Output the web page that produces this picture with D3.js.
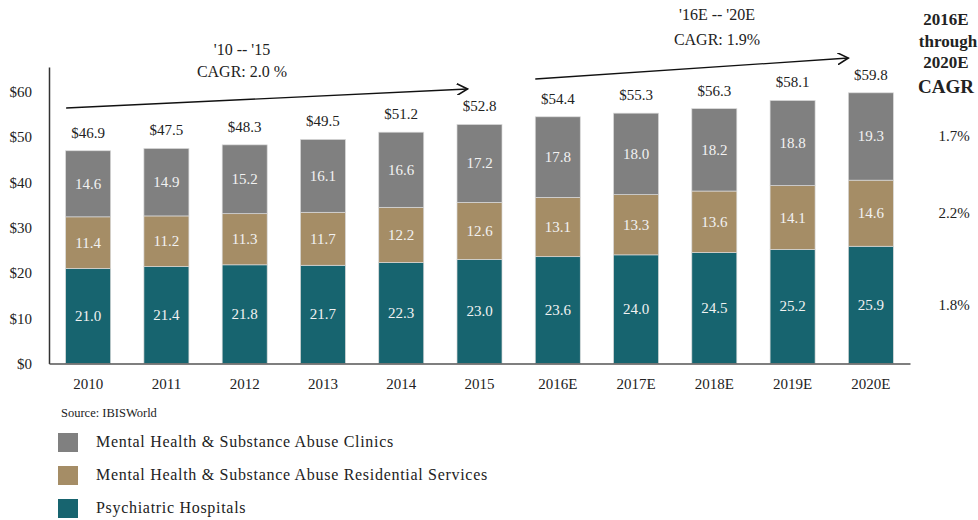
<!DOCTYPE html>
<html>
<head>
<meta charset="utf-8">
<script src="https://cdn.jsdelivr.net/npm/d3@7"></script>
<style>
  body { margin: 0; background: #fff; }
  svg { font-family: "Liberation Serif", "DejaVu Serif", serif; }
</style>
</head>
<body>
<svg id="chart" width="978" height="520"></svg>
<script>
// data
let years = ["2010", "2011", "2012", "2013", "2014", "2015", "2016E", "2017E", "2018E", "2019E", "2020E"]
let hospitals = [21.0, 21.4, 21.8, 21.7, 22.3, 23.0, 23.6, 24.0, 24.5, 25.2, 25.9]
let residential = [11.4, 11.2, 11.3, 11.7, 12.2, 12.6, 13.1, 13.3, 13.6, 14.1, 14.6]
let clinics = [14.6, 14.9, 15.2, 16.1, 16.6, 17.2, 17.8, 18.0, 18.2, 18.8, 19.3]
let totals = [46.9, 47.5, 48.3, 49.5, 51.2, 52.8, 54.4, 55.3, 56.3, 58.1, 59.8]
let seriesNames = ["Psychiatric Hospitals", "Mental Health & Substance Abuse Residential Services", "Mental Health & Substance Abuse Clinics"]
let seriesColors = ["#17646f", "#a58d66", "#808080"]
let cagrRight = ["1.8%", "2.2%", "1.7%"]
let yTicks = [0, 10, 20, 30, 40, 50, 60]

var svg = d3.select("#chart")

var x = d3.scaleBand().domain(years).range([49, 910]).paddingInner(0.425).paddingOuter(0.2125)
var y = d3.scaleLinear().domain([0, 65.5]).range([363.5, 67])

var rows = years.map(function(yr, i){
    return {year: yr, hosp: hospitals[i], res: residential[i], clin: clinics[i]}
})
var stack = d3.stack().keys(["hosp", "res", "clin"])
var layers = stack(rows)

// bars
var g = svg.append("g")
layers.forEach(function(layer, li){
    g.selectAll(".seg" + li)
        .data(layer)
        .enter().append("rect")
        .attr("x", d => x(d.data.year))
        .attr("width", x.bandwidth())
        .attr("y", d => y(d[1]))
        .attr("height", d => y(d[0]) - y(d[1]))
        .attr("fill", seriesColors[li])
        .attr("stroke", "#d9d9d9")
        .attr("stroke-width", 0.7)

    g.selectAll(".lab" + li)
        .data(layer)
        .enter().append("text")
        .attr("x", d => x(d.data.year) + x.bandwidth() / 2)
        .attr("y", d => y((d[0] + d[1]) / 2) + 5)
        .attr("text-anchor", "middle")
        .attr("fill", "#f2f2f2")
        .style("font-size", "15px")
        .text(d => (d[1] - d[0]).toFixed(1))
})

// totals
g.selectAll(".tot")
    .data(totals)
    .enter().append("text")
    .attr("x", (d, i) => x(years[i]) + x.bandwidth() / 2)
    .attr("y", d => y(d) - 13)
    .attr("text-anchor", "middle")
    .attr("fill", "#222")
    .style("font-size", "15px")
    .text(d => "$" + d.toFixed(1))

// axes
var yAxis = svg.append("g")
    .attr("transform", "translate(49,0)")
    .call(d3.axisLeft(y).tickValues(yTicks).tickSize(0).tickPadding(17).tickFormat(d => "$" + d))
yAxis.select(".domain").attr("stroke", "#333").attr("stroke-width", 1.5)
yAxis.selectAll("text").style("font-size", "15px").style("font-family", "Liberation Serif").attr("fill", "#222")

var xAxis = svg.append("g")
    .attr("transform", "translate(0," + y(0) + ")")
    .call(d3.axisBottom(x).tickSize(0).tickPadding(15))
xAxis.select(".domain").attr("stroke", "#555").attr("stroke-width", 1.5)
xAxis.selectAll("text").style("font-size", "15px").style("font-family", "Liberation Serif").attr("fill", "#222")

// CAGR arrows
var defs = svg.append("defs")
defs.append("marker")
    .attr("id", "arr")
    .attr("viewBox", "0 0 10 10")
    .attr("refX", 9).attr("refY", 5)
    .attr("markerWidth", 12).attr("markerHeight", 12)
    .attr("markerUnits", "userSpaceOnUse")
    .attr("orient", "auto")
    .append("path")
    .attr("d", "M0,0 L9,5 L0,10")
    .attr("fill", "none")
    .attr("stroke", "#111")
    .attr("stroke-width", 1.3)

svg.append("line")
    .attr("x1", x("2010") - 22 + x.bandwidth() / 2).attr("y1", 108)
    .attr("x2", x("2015") + x.bandwidth() / 2 - 12).attr("y2", 89)
    .attr("stroke", "#111").attr("stroke-width", 1.3)
    .attr("marker-end", "url(#arr)")
svg.append("line")
    .attr("x1", x("2016E")).attr("y1", 79)
    .attr("x2", x("2020E")).attr("y2", 58)
    .attr("stroke", "#111").attr("stroke-width", 1.3)
    .attr("marker-end", "url(#arr)")

function label(txt, cx, cy, size, weight){
    svg.append("text")
        .attr("x", cx).attr("y", cy)
        .attr("text-anchor", "middle")
        .attr("fill", "#222")
        .style("font-size", size + "px")
        .style("font-weight", weight || "normal")
        .text(txt)
}
label("'10 -- '15", 242, 55, 16)
label("CAGR: 2.0 %", 242, 77, 16)
label("'16E -- '20E", 717, 20, 16)
label("CAGR: 1.9%", 717, 45, 16)
label("2016E", 946, 25, 17, "bold")
label("through", 948, 47, 17, "bold")
label("2020E", 946, 68, 17, "bold")
label("CAGR", 946, 93, 19, "bold")

// right side CAGR by segment, at 2020E segment middles
var last = layers.map(l => l[l.length - 1])
last.forEach(function(d, i){
    label(cagrRight[i], 954, y((d[0] + d[1]) / 2) + 5, 15)
})

// source + legend
svg.append("text").attr("x", 61).attr("y", 417).style("font-size", "12.5px").attr("fill", "#222").text("Source: IBISWorld")

var legendOrder = [2, 1, 0]
legendOrder.forEach(function(si, k){
    var ly = 433 + k * 33
    svg.append("rect").attr("x", 58).attr("y", ly).attr("width", 20).attr("height", 19).attr("fill", seriesColors[si])
    svg.append("text").attr("x", 96).attr("y", ly + 14)
        .style("font-size", "16px").style("letter-spacing", "0.7px")
        .attr("fill", "#222").text(seriesNames[si])
})
</script>
</body>
</html>
